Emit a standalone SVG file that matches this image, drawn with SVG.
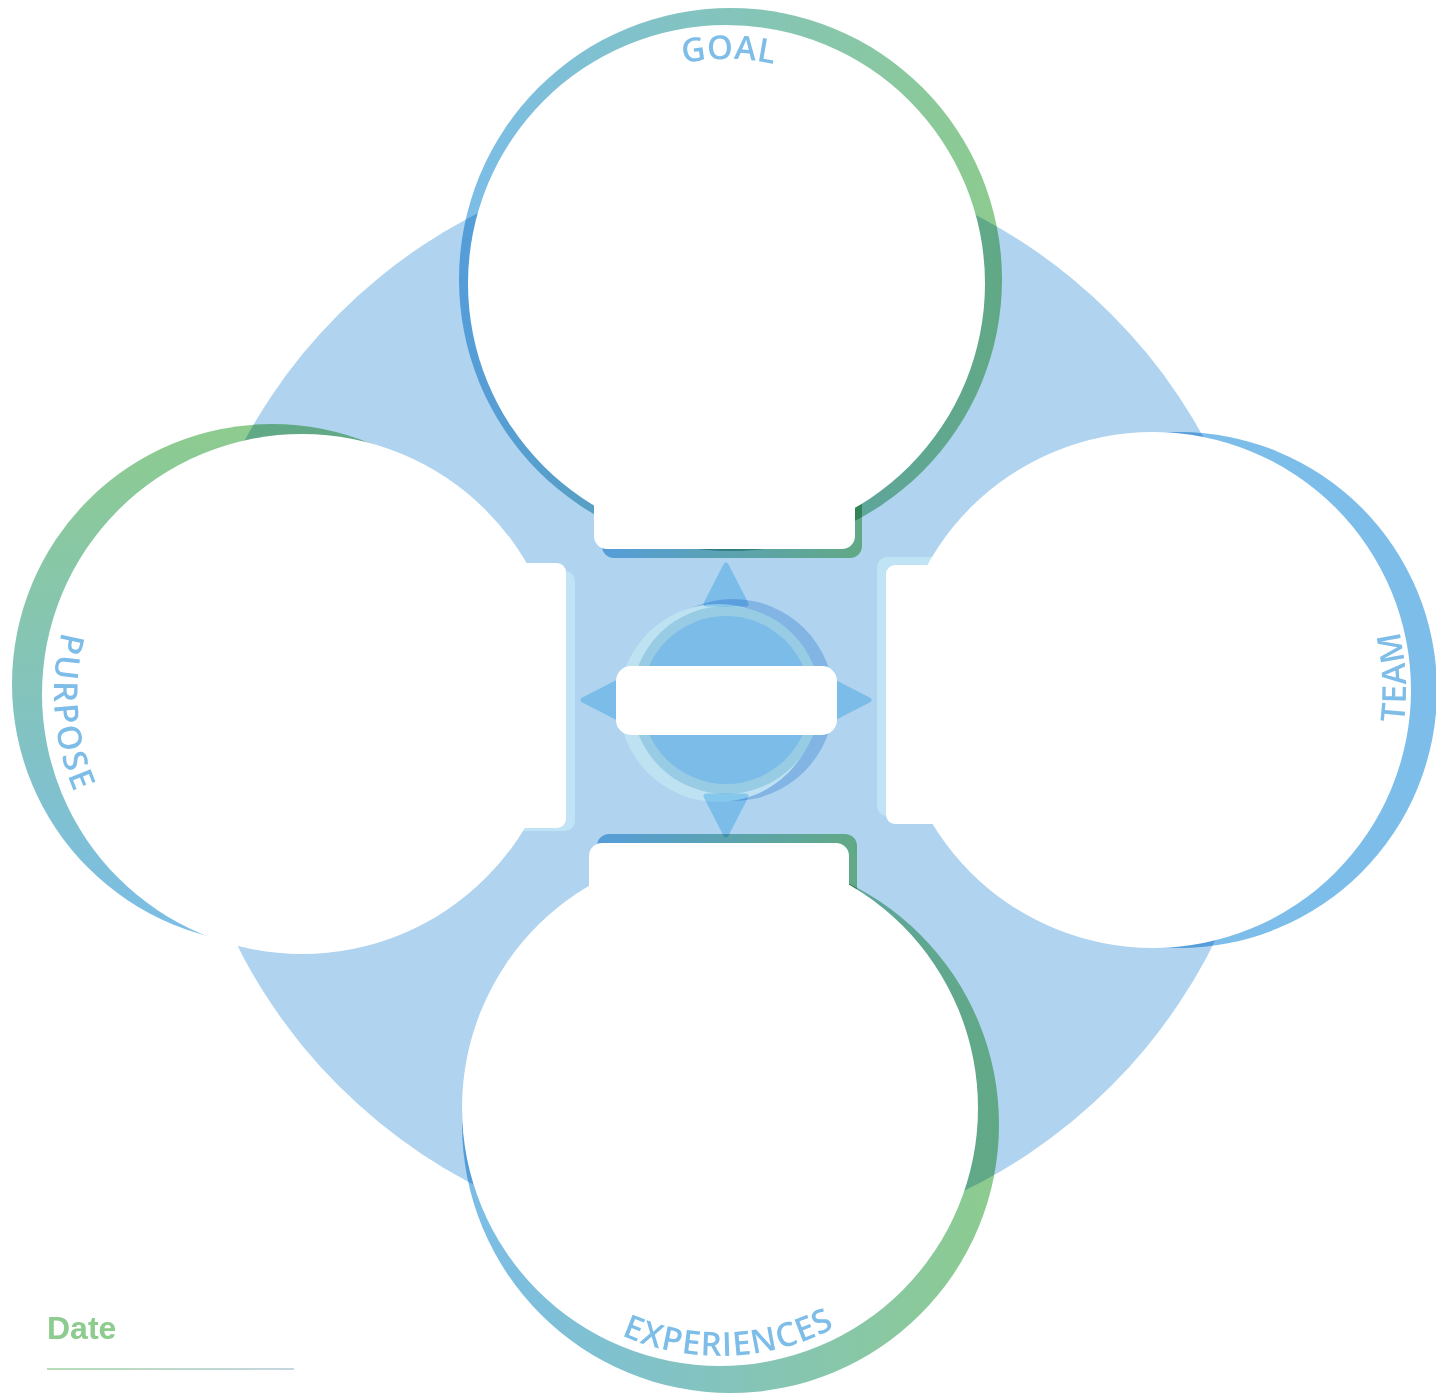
<svg xmlns="http://www.w3.org/2000/svg" width="1436" height="1395" viewBox="0 0 1436 1395">
<style>
.ring{mix-blend-mode:multiply}
.w{fill:#ffffff}
.frame{fill:#C0E3F6}
.lbl{font-family:"Open Sans","DejaVu Sans",sans-serif;font-size:33px;font-weight:600;fill:#7DBDE8}
.arr{fill:#B2E2F9;stroke:#B2E2F9;stroke-width:5;stroke-linejoin:round;mix-blend-mode:multiply}
</style>
<defs>
<linearGradient id="gTop" gradientUnits="userSpaceOnUse" x1="459" y1="0" x2="1002" y2="0"><stop offset="0" stop-color="#7BBDE8"/><stop offset="1" stop-color="#8DCB8E"/></linearGradient>
<linearGradient id="gBot" gradientUnits="userSpaceOnUse" x1="462" y1="0" x2="999" y2="0"><stop offset="0" stop-color="#7BBDE8"/><stop offset="1" stop-color="#8DCB8E"/></linearGradient>
<linearGradient id="gTab" x1="0" y1="0" x2="1" y2="0"><stop offset="0" stop-color="#7BBDE8"/><stop offset="1" stop-color="#8DCB8E"/></linearGradient>
<linearGradient id="gLeft" gradientUnits="userSpaceOnUse" x1="0" y1="424" x2="0" y2="944"><stop offset="0" stop-color="#8DCB8E"/><stop offset="1" stop-color="#7BBDE8"/></linearGradient>
<linearGradient id="gLine" gradientUnits="userSpaceOnUse" x1="47" y1="0" x2="294" y2="0"><stop offset="0" stop-color="#9FD2A1"/><stop offset="1" stop-color="#B3C8D6"/></linearGradient>
<path id="pGoal" d="M502,283.5 A224.5,224.5 0 0 1 951,283.5"/>
<path id="pExp" d="M472,1108 A248,248 0 0 0 968,1108"/>
<path id="pPur" d="M302,446 A248,248 0 0 0 302,942"/>
<path id="pTeam" d="M1153,943 A253,253 0 0 0 1153,437"/>
</defs>

<g id="background">
<circle cx="725" cy="700" r="546" fill="#B0D4EF"/>
</g>

<g id="node-goal">
<circle class="ring" cx="730.5" cy="279.5" r="271.5" fill="url(#gTop)"/>
<rect class="ring" x="602" y="470" width="260" height="88" rx="12" fill="url(#gTab)"/>
<circle class="w" cx="726.5" cy="283.5" r="258.5"/>
<rect class="w" x="594" y="470" width="261" height="79" rx="13"/>
<text class="lbl" letter-spacing="0.5"><textPath href="#pGoal" startOffset="50.3%" text-anchor="middle">GOAL</textPath></text>
</g>

<g id="node-purpose">
<circle class="ring" cx="272" cy="684" r="260" fill="url(#gLeft)"/>
<rect class="frame" x="505" y="571" width="70" height="260" rx="10"/>
<circle class="w" cx="302" cy="694" r="260"/>
<rect class="w" x="495" y="563" width="71" height="265" rx="9"/>
<text class="lbl" letter-spacing="2.5"><textPath href="#pPur" startOffset="52.6%" text-anchor="middle">PURPOSE</textPath></text>
</g>

<g id="node-team">
<circle class="ring" cx="1179" cy="690" r="258" fill="#7DBDE9"/>
<rect class="frame" x="877" y="557" width="68" height="259" rx="10"/>
<circle class="w" cx="1153" cy="690" r="258"/>
<rect class="w" x="886" y="565" width="70" height="259" rx="9"/>
<text class="lbl" letter-spacing="1"><textPath href="#pTeam" startOffset="51.7%" text-anchor="middle">TEAM</textPath></text>
</g>

<g id="node-experiences">
<circle class="ring" cx="730.5" cy="1124.5" r="268.5" fill="url(#gBot)"/>
<rect class="ring" x="597" y="834" width="260" height="80" rx="12" fill="url(#gTab)"/>
<circle class="w" cx="720" cy="1108" r="258"/>
<rect class="w" x="589" y="843" width="260" height="75" rx="13"/>
<text class="lbl" letter-spacing="1"><textPath href="#pExp" startOffset="51.2%" text-anchor="middle">EXPERIENCES</textPath></text>
</g>

<g id="node-center">
<circle cx="733" cy="700" r="101" fill="#82B4E4"/>
<circle cx="718" cy="703" r="99" fill="#BEE2F1"/>
<circle cx="726" cy="700" r="94" fill="#98CBE4"/>
<circle cx="726" cy="700" r="84" fill="#7BBCE8"/>
<path class="arr" d="M726,565 L746,604 L706,604 Z"/>
<path class="arr" d="M726,835 L746,796 L706,796 Z"/>
<path class="arr" d="M583,700 L622,680 L622,720 Z"/>
<path class="arr" d="M869,700 L830,680 L830,720 Z"/>
<rect class="w" x="616" y="666" width="221" height="69" rx="15"/>
</g>

<g id="connectors"></g>

<g id="date">
<text x="47" y="1339" font-family="Liberation Sans, Arial, sans-serif" font-weight="bold" font-size="32" fill="#8DCB8E">Date</text>
<line x1="47" y1="1369" x2="294" y2="1369" stroke="url(#gLine)" stroke-width="1.5"/>
</g>
</svg>
